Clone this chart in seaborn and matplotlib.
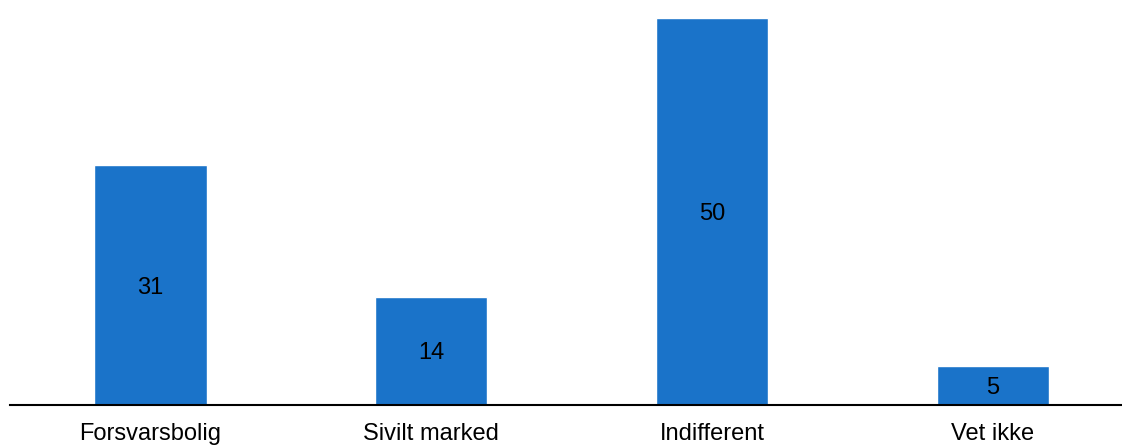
import matplotlib
matplotlib.use("Agg")
import matplotlib.pyplot as plt
import seaborn as sns
import pandas as pd

categories = ["Forsvarsbolig", "Sivilt marked", "Indifferent", "Vet ikke"]
values = [31, 14, 50, 5]

sns.set_theme(style="white")
plt.rcParams['font.family'] = ['Liberation Sans', 'DejaVu Sans']

df = pd.DataFrame({"cat": categories, "val": values})

fig = plt.figure(figsize=(11.22, 4.46), dpi=100)
ax = fig.add_axes([10/1122, 41/446, 1 - 10/1122, (405-18)/446])
sns.barplot(data=df, x="cat", y="val", color="#1a73c9", saturation=1, width=0.4, ax=ax)

for p, v in zip(ax.patches, values):
    ax.text(p.get_x() + p.get_width()/2, v/2, f"{v}", ha="center", va="center_baseline",
            fontsize=17, color="black")

ax.set_ylim(0, 50)
ax.set_xlim(-0.5, 3.46)
ax.set_xlabel("")
ax.set_ylabel("")
ax.set_yticks([])
for s in ["top", "right", "left"]:
    ax.spines[s].set_visible(False)
ax.spines["bottom"].set_color("black")
ax.spines["bottom"].set_linewidth(1.5)
ax.tick_params(axis="x", length=0, pad=13, labelsize=17, colors="black")

fig.savefig("out.png", dpi=100)
